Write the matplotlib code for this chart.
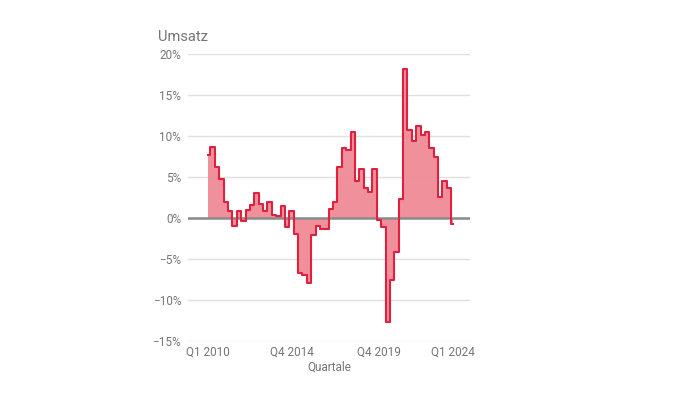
import matplotlib.pyplot as plt
import numpy as np

# Umsatz, Veränderung in % je Quartal (Q1 2010 .. Q1 2024)
umsatz = [7.7, 8.6, 6.2, 4.8, 1.9, 0.9, -1.0, 0.9, -0.4, 1.0,
          1.55, 3.1, 1.7, 0.9, 1.9, 0.4, 0.2, 1.5, -1.1, 0.9,
          -1.9, -6.7, -6.95, -7.9, -2.1, -1.0, -1.3, -1.3, 1.1, 2.0,
          6.2, 8.5, 8.3, 10.5, 4.5, 6.0, 3.7, 3.15, 6.0, -0.2,
          -1.1, -12.7, -7.6, -4.1, 2.3, 18.2, 10.7, 9.4, 11.2, 10.1,
          10.5, 8.5, 7.4, 2.55, 4.5, 3.7, -0.7]
quartale = [f"Q{q} {y}" for y in range(2010, 2025) for q in range(1, 5)][:len(umsatz)]
shown_ticks = ["Q1 2010", "Q4 2014", "Q4 2019", "Q1 2024"]
y_ticks = [-15, -10, -5, 0, 5, 10, 15, 20]

plt.rcParams["font.family"] = ["Roboto", "DejaVu Sans"]

fig = plt.figure(figsize=(6.95, 3.95), dpi=100)
ax = fig.add_axes([188 / 695, 1 - 341 / 395, (470 - 188) / 695, (341 - 54) / 395])

x = np.arange(len(umsatz))
ax.fill_between(x, umsatz, 0, step="mid", color="#ef8a96", alpha=0.95, linewidth=0, zorder=2)
ax.axhline(0, color="#8a8a8a", linewidth=1.8, zorder=3)
ax.step(x, umsatz, where="mid", color="#e0203f", linewidth=1.5, zorder=4)

ax.set_xlim(-4.64, 59.8)
ax.set_ylim(-15, 20)
ax.set_yticks(y_ticks)
ax.set_yticklabels([f"{v}%".replace("-", "\u2212") for v in y_ticks])
ax.set_xticks([quartale.index(t) for t in shown_ticks])
ax.set_xticklabels(shown_ticks)
ax.grid(axis="y", color="#e0e0e0", linewidth=1, zorder=0)
ax.set_axisbelow(True)
for s in ax.spines.values():
    s.set_visible(False)
ax.tick_params(length=0, colors="#757575", labelsize=8.5)
ax.tick_params(axis="y", pad=5)
ax.tick_params(axis="x", pad=3)
ax.set_xlabel("Quartale", color="#757575", fontsize=8.5, labelpad=2)

fig.text(158 / 695, 1 - 37 / 395, "Umsatz", color="#757575", fontsize=10.5, va="center", ha="left")

fig.savefig("out.png", dpi=100)
